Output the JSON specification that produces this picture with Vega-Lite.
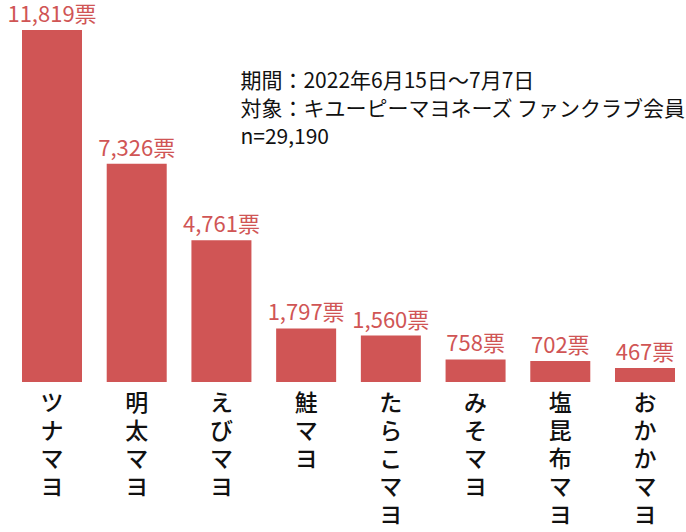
{
  "$schema": "https://vega.github.io/schema/vega-lite/v6.json",
  "width": 686,
  "height": 352,
  "autosize": "none",
  "padding": {"left": 0, "right": 0, "top": 30, "bottom": 150},
  "background": "white",
  "config": {"font": "Noto Sans CJK JP", "view": {"stroke": null}},
  "datasets": {
    "votes": [
      {"name": "ツナマヨ", "votes": 11819},
      {"name": "明太マヨ", "votes": 7326},
      {"name": "えびマヨ", "votes": 4761},
      {"name": "鮭マヨ", "votes": 1797},
      {"name": "たらこマヨ", "votes": 1560},
      {"name": "みそマヨ", "votes": 758},
      {"name": "塩昆布マヨ", "votes": 702},
      {"name": "おかかマヨ", "votes": 467}
    ],
    "notes": [
      {"name": "えびマヨ", "pos": 10080, "note": "期間：2022年6月15日～7月7日"},
      {"name": "えびマヨ", "pos": 9140, "note": "対象：キユーピーマヨネーズ ファンクラブ会員"},
      {"name": "えびマヨ", "pos": 8180, "note": "n=29,190"}
    ]
  },
  "layer": [
    {
      "data": {"name": "votes"},
      "mark": {"type": "bar", "color": "#D05555"},
      "encoding": {
        "x": {
          "field": "name", "type": "nominal", "sort": null,
          "scale": {"range": [22, 675], "paddingInner": 0.2917, "paddingOuter": 0},
          "axis": {
            "title": null, "ticks": false, "domain": false, "labelAngle": 0,
            "labelExpr": "split(datum.label, '')",
            "labelBaseline": "top", "labelPadding": 10, "labelFontSize": 23,
            "labelFontWeight": 500,
            "labelLineHeight": 28, "labelColor": "#111111"
          }
        },
        "y": {
          "field": "votes", "type": "quantitative",
          "scale": {"domain": [0, 11819], "nice": false, "zero": true},
          "axis": null
        }
      }
    },
    {
      "data": {"name": "votes"},
      "mark": {
        "type": "text", "color": "#D05555", "fontSize": 22, "baseline": "bottom", "dy": -3,
        "text": {"expr": "format(datum.votes, ',') + '票'"}
      },
      "encoding": {
        "x": {"field": "name", "type": "nominal", "sort": null},
        "y": {"field": "votes", "type": "quantitative"}
      }
    },
    {
      "mark": {"type": "rule", "color": "#cccccc", "strokeWidth": 1.5},
      "encoding": {"y": {"datum": 0}}
    },
    {
      "data": {"name": "notes"},
      "mark": {"type": "text", "align": "left", "baseline": "middle", "fontSize": 21, "dx": 19, "color": "#111111"},
      "encoding": {
        "x": {"field": "name", "type": "nominal", "sort": null},
        "y": {"field": "pos", "type": "quantitative"},
        "text": {"field": "note"}
      }
    }
  ]
}
